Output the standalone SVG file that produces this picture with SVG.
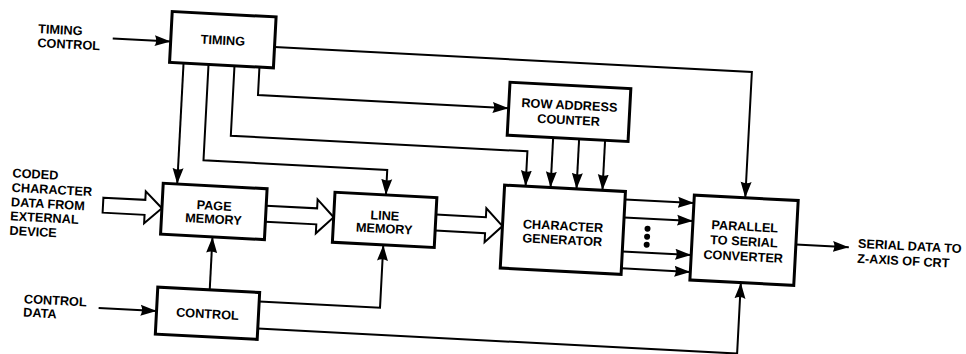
<svg xmlns="http://www.w3.org/2000/svg" width="966" height="354" viewBox="0 0 966 354">
<style>
  .box { fill: #fff; stroke: #000; stroke-width: 3; }
  .ln { fill: none; stroke: #000; stroke-width: 2; marker-end: url(#ah); }
  .hollow { fill: #fff; stroke: #000; stroke-width: 2; stroke-linejoin: miter; }
  text { font-family: "Liberation Sans", Arial, sans-serif; font-weight: bold; font-size: 12.7px; fill: #000; }
  .c { text-anchor: middle; }
</style>
<defs>
  <marker id="ah" markerUnits="userSpaceOnUse" markerWidth="17" markerHeight="12" refX="16" refY="6" orient="auto">
    <path d="M0,0.5 L16,6 L0,11.5 Q3,6 0,0.5 Z" fill="#000"/>
  </marker>
</defs>
<rect x="0" y="0" width="966" height="354" fill="#fff"/>
<g transform="rotate(3 483 177)">
  <g id="connectors">
    <path class="ln" d="M106,58 H164"/>
    <path class="ln" d="M268,58 H746 V184"/>
    <path class="ln" d="M254,79 V107 H505"/>
    <path class="ln" d="M229,79 V149 H526 V184"/>
    <path class="ln" d="M203,79 V175 H387 V200"/>
    <path class="ln" d="M178,79 V200"/>
    <path class="ln" d="M551,134 V184"/>
    <path class="ln" d="M577,134 V184"/>
    <path class="ln" d="M603,134 V184"/>
    <path class="ln" d="M216,304 V251"/>
    <path class="ln" d="M106,328 H164"/>
    <path class="ln" d="M266,313 H387 V250"/>
    <path class="ln" d="M266,340 H746 V269"/>
    <path class="ln" d="M626,192 H695"/>
    <path class="ln" d="M626,210 H695"/>
    <path class="ln" d="M626,244 H695"/>
    <path class="ln" d="M626,261 H695"/>
    <path class="ln" d="M799,228 H852"/>
    <circle cx="650" cy="220" r="3"/>
    <circle cx="650" cy="228" r="3"/>
    <circle cx="650" cy="236" r="3"/>
    <path class="hollow" d="M105,217.5 H147 V209 L164,225 L147,241 V232.5 H105 Z"/>
    <path class="hollow" d="M268,217 H319 V208 L336,225 L319,242 V233 H268"/>
    <path class="hollow" d="M438,217 H488 V208 L505,225 L488,242 V233 H438"/>
  </g>
  <g id="timing">
    <rect class="box" x="164" y="28" width="104" height="51"/>
    <text class="c" x="216" y="58.5">TIMING</text>
  </g>
  <g id="row-address-counter">
    <rect class="box" x="505" y="81" width="121" height="53"/>
    <text class="c" x="565.5" y="105">ROW ADDRESS</text>
    <text class="c" x="565.5" y="120">COUNTER</text>
  </g>
  <g id="page-memory">
    <rect class="box" x="164" y="200" width="104" height="51"/>
    <text class="c" x="216" y="224">PAGE</text>
    <text class="c" x="216" y="237.5">MEMORY</text>
  </g>
  <g id="line-memory">
    <rect class="box" x="336" y="200" width="102" height="50"/>
    <text class="c" x="387" y="225">LINE</text>
    <text class="c" x="387" y="238">MEMORY</text>
  </g>
  <g id="character-generator">
    <rect class="box" x="505" y="184" width="121" height="83"/>
    <text class="c" x="565.5" y="226">CHARACTER</text>
    <text class="c" x="565.5" y="240">GENERATOR</text>
  </g>
  <g id="parallel-to-serial">
    <rect class="box" x="695" y="184" width="104" height="85"/>
    <text class="c" x="747" y="217">PARALLEL</text>
    <text class="c" x="747" y="232">TO SERIAL</text>
    <text class="c" x="747" y="247">CONVERTER</text>
  </g>
  <g id="control">
    <rect class="box" x="164" y="304" width="102" height="47"/>
    <text class="c" x="215" y="332.5">CONTROL</text>
  </g>
  <g id="labels">
    <text x="31" y="56.5">TIMING</text>
    <text x="31" y="70.5">CONTROL</text>
    <text x="13" y="202">CODED</text>
    <text x="13" y="216.5">CHARACTER</text>
    <text x="13" y="231">DATA FROM</text>
    <text x="13" y="245">EXTERNAL</text>
    <text x="13" y="259.5">DEVICE</text>
    <text x="31" y="327">CONTROL</text>
    <text x="31" y="340.5">DATA</text>
    <text x="861" y="228">SERIAL DATA TO</text>
    <text x="861" y="243">Z-AXIS OF CRT</text>
  </g>
</g>
</svg>
